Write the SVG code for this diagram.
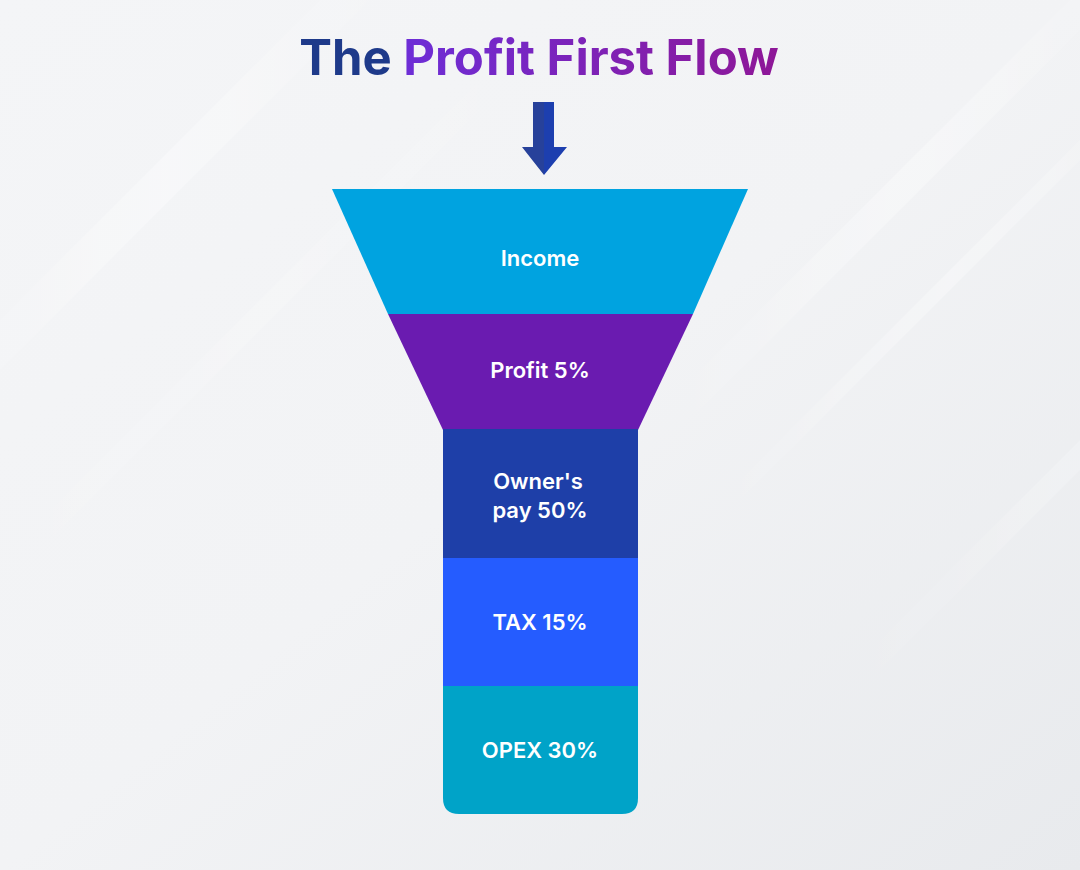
<svg xmlns="http://www.w3.org/2000/svg" width="1080" height="870" viewBox="0 0 1080 870">
  <defs>
    <linearGradient id="bg" x1="0" y1="0" x2="1" y2="1">
      <stop offset="0" stop-color="#F4F5F7"/>
      <stop offset="0.5" stop-color="#F2F3F5"/>
      <stop offset="1" stop-color="#E8EAED"/>
    </linearGradient>
    <linearGradient id="streak" x1="0" y1="0" x2="1" y2="0">
      <stop offset="0" stop-color="#FFFFFF" stop-opacity="0"/>
      <stop offset="0.5" stop-color="#FFFFFF" stop-opacity="0.6"/>
      <stop offset="1" stop-color="#FFFFFF" stop-opacity="0"/>
    </linearGradient>
    <linearGradient id="titleGrad" x1="0" y1="0" x2="1" y2="0">
      <stop offset="0" stop-color="#6434E8"/>
      <stop offset="1" stop-color="#8E1797"/>
    </linearGradient>
    <style>
      .lbl { font-family: Inter, "Noto Sans", "Liberation Sans", sans-serif; font-weight: 600; font-size: 22px; fill: #FFFFFF; text-anchor: middle; }
      .title { font-family: Inter, "Noto Sans", "Liberation Sans", sans-serif; font-weight: 700; font-size: 49px; text-anchor: middle; }
    </style>
  </defs>

  <rect x="0" y="0" width="1080" height="870" fill="url(#bg)"/>
  <g opacity="0.6">
    <polygon points="-100,420 380,-60 430,-60 -50,420" fill="url(#streak)"/>
    <polygon points="650,420 1130,-60 1170,-60 690,420" fill="url(#streak)"/>
    <polygon points="700,520 1180,40 1200,40 720,520" fill="url(#streak)"/>
    <polygon points="-60,620 560,0 590,0 -30,620" fill="url(#streak)" opacity="0.6"/>
    <polygon points="820,700 1300,220 1330,220 850,700" fill="url(#streak)" opacity="0.6"/>
  </g>

  <g id="title">
    <text class="title" x="539" y="75"><tspan fill="#1E3A8A">The </tspan><tspan fill="url(#titleGrad)">Profit First Flow</tspan></text>
  </g>

  <g id="connectors">
    <polygon points="533,102 544,102 544,175 522,147 533,147" fill="#27419A"/>
    <polygon points="544,102 554,102 554,147 567,147 544,175" fill="#1D3FAF"/>
  </g>

  <g id="income">
    <polygon points="332,189 748,189 693,314 388,314" fill="#00A3E0"/>
    <text class="lbl" x="540" y="266">Income</text>
  </g>
  <g id="profit">
    <polygon points="388,314 693,314 638,430 443,430" fill="#6A1BB0"/>
    <text class="lbl" x="540" y="378">Profit 5%</text>
  </g>
  <g id="owners-pay">
    <rect x="443" y="429" width="195" height="130" fill="#1E3FA8"/>
    <text class="lbl" x="538" y="489">Owner's</text>
    <text class="lbl" x="540" y="518">pay 50%</text>
  </g>
  <g id="tax">
    <rect x="443" y="558" width="195" height="129" fill="#255CFF"/>
    <text class="lbl" x="540" y="630">TAX 15%</text>
  </g>
  <g id="opex">
    <path d="M443,686 H638 V798 Q638,814 622,814 H459 Q443,814 443,798 Z" fill="#00A3C8"/>
    <text class="lbl" x="540" y="758">OPEX 30%</text>
  </g>
</svg>
